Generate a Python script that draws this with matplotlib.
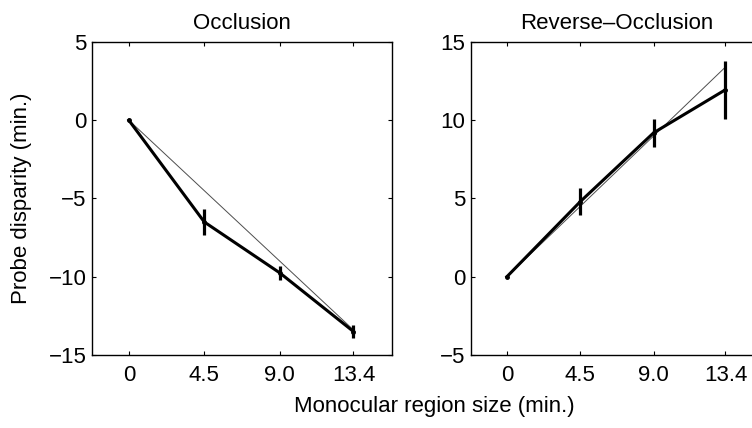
import matplotlib
matplotlib.use('Agg')
import matplotlib.pyplot as plt

plt.rcParams['font.family'] = ['Liberation Sans', 'DejaVu Sans']

sizes = [0, 4.5, 9.0, 13.4]
size_labels = ['0', '4.5', '9.0', '13.4']

occ_mean = [0, -6.5, -9.75, -13.5]
occ_err = [0, 0.85, 0.45, 0.4]
occ_pred = [0, -13.4]

rev_mean = [0, 4.8, 9.2, 11.95]
rev_err = [0, 0.85, 0.9, 1.85]
rev_pred = [0, 13.4]

panels = [
    ('Occlusion', occ_mean, occ_err, occ_pred, (-15, 5), [5, 0, -5, -10, -15]),
    ('Reverse\u2013Occlusion', rev_mean, rev_err, rev_pred, (-5, 15), [15, 10, 5, 0, -5]),
]

fig = plt.figure(figsize=(7.52, 4.28), dpi=100)
# left panel fits inside, right panel runs past the figure edge like the scan
rects = [[0.1223, 0.1706, 0.399, 0.7313],
         [0.6263, 0.1706, 0.3883, 0.7313]]
fs = 16

for rect, (title, mean, err, pred, ylim, yticks) in zip(rects, panels):
    ax = fig.add_axes(rect)
    ax.plot([sizes[0], sizes[-1]], pred, color='0.3', lw=0.7)
    ax.errorbar(sizes, mean, yerr=err, color='black', lw=2.2,
                elinewidth=2.3, capsize=0, marker='o', markersize=2.5)
    ax.set_xlim(-2.2, 15.7)
    ax.set_ylim(*ylim)
    ax.set_xticks(sizes)
    ax.set_xticklabels(size_labels)
    ax.set_yticks(yticks)
    ax.tick_params(direction='in', length=3, width=0.8, labelsize=fs,
                   top=True, right=True)
    ax.tick_params(axis='x', pad=7)
    ax.tick_params(axis='y', pad=4)
    for spine in ax.spines.values():
        spine.set_linewidth(1.0)
    ax.set_title(title, fontsize=fs, pad=9)

fig.text(22 / 752, 0.536, 'Probe disparity (min.)', rotation=90,
         ha='center', va='center', fontsize=fs)
fig.text(0.577, 0.051, 'Monocular region size (min.)', ha='center',
         va='center', fontsize=fs)

fig.savefig('out.png', dpi=100)
